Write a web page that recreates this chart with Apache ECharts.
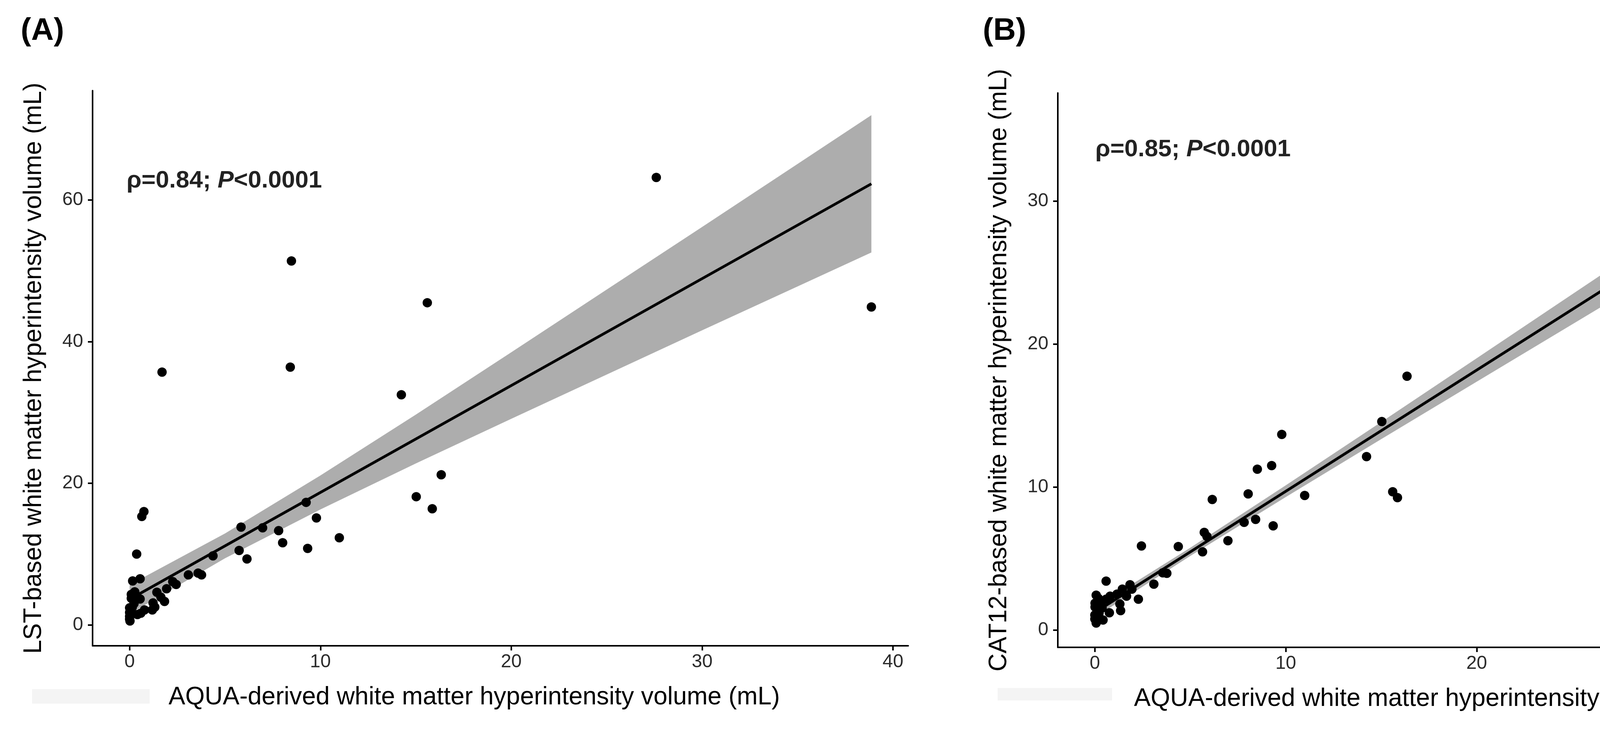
<!DOCTYPE html>
<html>
<head>
<meta charset="utf-8">
<script src="https://cdn.jsdelivr.net/npm/echarts@6/dist/echarts.min.js"></script>
<style>
  html, body { margin: 0; padding: 0; background: #fff; }
</style>
</head>
<body>
<div id="main" style="width: 4817px;height: 1866px"></div>

<script type="text/javascript">
    // panel A: AQUA vs LST
    var aquaA = [0.75, 0.64, 0.37, 0.16, 0.55, 5.84, 6.97, 7.81, 8.02, 9.25,
                 9.79, 10.99, 9.33, 5.74, 6.15, 4.37, 3.08, 3.59, 3.77, 2.26,
                 2.44, 1.94, 1.43, 1.64, 1.83, 1.23, 1.32, 1.19, 0.78, 0.59,
                 0.41, 0.55, 0.27, 0.09, 0.09, 0.14, 0.0, 0.0, 0.02, 0.0,
                 0.0, 0.23, 0.32,
                 8.48, 15.6, 1.70, 8.42, 14.24, 16.33, 15.02, 15.86, 27.6, 38.87];
    var lstA = [16.0, 15.3, 10.0, 6.2, 6.5, 13.8, 13.7, 13.3, 11.6, 17.3,
                15.1, 12.3, 10.8, 10.5, 9.3, 9.75, 7.05, 7.3, 7.05, 6.1,
                5.7, 5.1, 4.6, 3.9, 3.3, 3.1, 2.5, 2.1, 2.1, 1.65,
                1.45, 3.65, 4.65, 4.3, 3.75, 2.5, 1.75, 1.2, 0.55, 0.8,
                2.4, 3.0, 3.6,
                51.4, 45.5, 35.7, 36.4, 32.5, 21.2, 18.1, 16.4, 63.2, 44.9];

    // panel B: AQUA vs CAT12
    var aquaB = [9.79, 9.26, 8.51, 8.03, 6.15, 10.99, 14.23, 7.82, 8.42, 9.34,
                 5.73, 5.87, 6.97, 5.64, 2.44, 4.37, 3.56, 3.77, 3.09, 0.59,
                 2.28, 1.84, 1.94, 1.44, 1.66, 1.16, 0.80, 1.31, 1.35, 0.76,
                 0.43, 0.07, 0.07, 0.17, 0.01, 0.01, 0.0, 0.0, 0.33, 0.38,
                 0.59, 0.22,
                 38.84, 27.59, 16.35, 15.03, 15.6, 15.85];
    var cat12B = [13.67, 11.49, 11.24, 9.51, 9.12, 9.40, 12.12, 7.52, 7.73, 7.28,
                  6.82, 6.54, 6.24, 5.46, 5.87, 5.83, 3.99, 3.96, 3.2, 3.41,
                  2.15, 3.16, 2.85, 2.85, 2.36, 2.5, 2.36, 1.81, 1.35, 1.2,
                  0.69, 0.48, 2.43, 2.22, 1.87, 1.6, 1.04, 0.76, 1.87, 1.53,
                  2.15, 1.18,
                  34.55, 26.19, 17.74, 14.57, 9.66, 9.25];

    // fitted lines and confidence bands, read at a few x positions
    var fitX = [0, 38.87];
    var fitA = [3.6, 62.3];
    var fitB = [1.22, 34.16];
    var bandX = [0, 5, 10, 15, 20, 25, 30, 35, 38.87];
    var bandLoA = [1.55, 9.4, 16.3, 22.8, 29.1, 35.35, 41.6, 47.8, 52.6];
    var bandHiA = [5.65, 12.9, 21.1, 29.7, 38.5, 47.35, 56.2, 65.1, 72.0];
    var bandLoB = [0.88, 5.17, 9.29, 13.34, 17.36, 21.37, 25.38, 29.38, 32.46];
    var bandHiB = [1.57, 5.75, 10.11, 14.54, 19.0, 23.47, 27.94, 32.42, 35.86];

    // tick labels
    var xTicks = [0, 10, 20, 30, 40];
    var yTicksA = [0, 20, 40, 60];
    var yTicksB = [0, 10, 20, 30];

    var xTitle = 'AQUA-derived white matter hyperintensity volume (mL)';
    var yTitleA = 'LST-based white matter hyperintensity volume (mL)';
    var yTitleB = 'CAT12-based white matter hyperintensity volume (mL)';

    var FONT = '"Liberation Sans", Arial, sans-serif';

    function pairs(xs, ys) {
        return xs.map(function (x, i) { return [x, ys[i]]; });
    }

    function xAxisCfg(gi) {
        return {
            type: 'value', gridIndex: gi, min: -1.94, max: 40.8,
            name: xTitle, nameLocation: 'middle', nameGap: 100,
            nameTextStyle: { fontSize: 64, color: '#000', fontFamily: FONT, padding: [0, 134, 0, 0] },
            axisLine: { onZero: false, lineStyle: { color: '#000', width: 4 } },
            axisTick: { customValues: xTicks, length: 12, lineStyle: { color: '#000', width: 4 } },
            axisLabel: { customValues: xTicks, fontSize: 48, color: '#2b2b2b', margin: 18, fontFamily: FONT },
            splitLine: { show: false }
        };
    }

    function yAxisCfg(gi, min, max, ticks, title) {
        return {
            type: 'value', gridIndex: gi, min: min, max: max,
            name: title, nameLocation: 'middle', nameGap: 118,
            nameTextStyle: { fontSize: 64, color: '#000', fontFamily: FONT },
            axisLine: { onZero: false, lineStyle: { color: '#000', width: 4 } },
            axisTick: { customValues: ticks, length: 12, lineStyle: { color: '#000', width: 4 } },
            axisLabel: { customValues: ticks, fontSize: 48, color: '#2b2b2b', margin: 24, fontFamily: FONT },
            splitLine: { show: false }
        };
    }

    // grey confidence ribbon drawn as one polygon through the axis scales
    function band(gi, lo, hi) {
        return {
            type: 'custom', xAxisIndex: gi, yAxisIndex: gi, silent: true, z: 1,
            data: bandX.map(function (x, i) { return [x, lo[i], hi[i]]; }),
            encode: { x: 0, y: [1, 2] },
            renderItem: function (params, api) {
                if (params.dataIndex !== 0) return;
                var pts = [];
                for (var i = 0; i < bandX.length; i++) pts.push(api.coord([bandX[i], hi[i]]));
                for (var j = bandX.length - 1; j >= 0; j--) pts.push(api.coord([bandX[j], lo[j]]));
                return { type: 'polygon', shape: { points: pts }, style: { fill: '#adadad' } };
            }
        };
    }

    function fitLine(gi, ys) {
        return {
            type: 'line', xAxisIndex: gi, yAxisIndex: gi, z: 3, silent: true,
            data: pairs(fitX, ys), symbol: 'none',
            lineStyle: { color: '#000', width: 7 }
        };
    }

    function dots(gi, xs, ys) {
        return {
            type: 'scatter', xAxisIndex: gi, yAxisIndex: gi, z: 2,
            data: pairs(xs, ys), symbolSize: 24,
            itemStyle: { color: '#000', opacity: 1 }
        };
    }

    var myChart = echarts.init(document.getElementById('main'));

    var option = {
        animation: false,
        backgroundColor: '#fff',
        textStyle: { fontFamily: FONT },
        grid: [
            { left: 237, top: 232, width: 2088, height: 1421 },
            { left: 2708, top: 238, width: 2089, height: 1419 }
        ],
        xAxis: [xAxisCfg(0), xAxisCfg(1)],
        yAxis: [
            yAxisCfg(0, -2.96, 75.46, yTicksA, yTitleA),
            yAxisCfg(1, -1.22, 37.55, yTicksB, yTitleB)
        ],
        series: [
            band(0, bandLoA, bandHiA),
            dots(0, aquaA, lstA),
            fitLine(0, fitA),
            band(1, bandLoB, bandHiB),
            dots(1, aquaB, cat12B),
            fitLine(1, fitB)
        ],
        graphic: [
            { type: 'rect', shape: { x: 82, y: 1764, width: 301, height: 37 }, style: { fill: '#f4f4f4' }, z: -1 },
            { type: 'rect', shape: { x: 2554, y: 1761, width: 293, height: 32 }, style: { fill: '#f4f4f4' }, z: -1 },
            { type: 'text', x: 53, y: 80, style: { text: '(A)', font: 'bold 80px ' + FONT, fill: '#000', verticalAlign: 'middle' } },
            { type: 'text', x: 2516, y: 80, style: { text: '(B)', font: 'bold 80px ' + FONT, fill: '#000', verticalAlign: 'middle' } },
            {
                type: 'text', x: 324, y: 463, z: 10,
                style: {
                    text: '{a|ρ=0.84; }{b|P}{a|<0.0001}', verticalAlign: 'middle',
                    rich: {
                        a: { font: 'bold 62px ' + FONT, fill: '#222' },
                        b: { font: 'italic bold 62px ' + FONT, fill: '#222' }
                    }
                }
            },
            {
                type: 'text', x: 2804, y: 383, z: 10,
                style: {
                    text: '{a|ρ=0.85; }{b|P}{a|<0.0001}', verticalAlign: 'middle',
                    rich: {
                        a: { font: 'bold 62px ' + FONT, fill: '#222' },
                        b: { font: 'italic bold 62px ' + FONT, fill: '#222' }
                    }
                }
            }
        ]
    };

    myChart.setOption(option);
</script>
</body>
</html>
